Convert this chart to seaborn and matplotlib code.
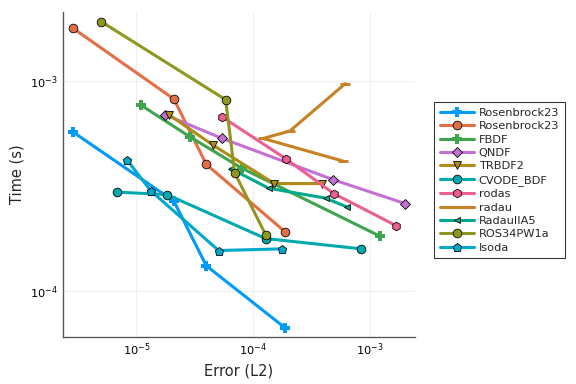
import numpy as np
import pandas as pd
import seaborn as sns
from matplotlib import pyplot as plt
from matplotlib.ticker import LogLocator, NullLocator

# values (error, time)
names = ["Rosenbrock23", "Rosenbrock23", "FBDF", "QNDF", "TRBDF2", "CVODE_BDF",
         "rodas", "radau", "RadauIIA5", "ROS34PW1a", "lsoda"]

err_ros23a = [2.84e-6, 2.09e-5, 3.96e-5, 1.86e-4]
time_ros23a = [5.74e-4, 2.68e-4, 1.32e-4, 6.70e-5]
err_ros23b = [2.84e-6, 2.09e-5, 3.96e-5, 1.86e-4]
time_ros23b = [1.79e-3, 8.21e-4, 4.01e-4, 1.92e-4]
err_fbdf = [1.10e-5, 2.86e-5, 7.94e-5, 1.20e-3]
time_fbdf = [7.66e-4, 5.43e-4, 3.85e-4, 1.83e-4]
err_qndf = [1.75e-5, 5.41e-5, 4.83e-4, 1.99e-3]
time_qndf = [6.92e-4, 5.33e-4, 3.39e-4, 2.61e-4]
err_trbdf2 = [1.89e-5, 4.55e-5, 1.51e-4, 3.89e-4]
time_trbdf2 = [6.92e-4, 4.94e-4, 3.25e-4, 3.25e-4]
err_cvode = [6.83e-6, 1.83e-5, 1.27e-4, 8.32e-4]
time_cvode = [2.96e-4, 2.88e-4, 1.78e-4, 1.59e-4]
err_rodas = [5.36e-5, 1.89e-4, 4.89e-4, 1.66e-3]
time_rodas = [6.77e-4, 4.27e-4, 2.91e-4, 2.05e-4]
err_radau = [6.11e-4, 2.05e-4, 1.21e-4, 5.83e-4]
time_radau = [9.72e-4, 5.78e-4, 5.33e-4, 4.16e-4]
err_radau5 = [6.40e-5, 1.35e-4, 4.15e-4, 6.27e-4]
time_radau5 = [3.83e-4, 3.09e-4, 2.77e-4, 2.52e-4]
err_ros34 = [4.98e-6, 5.79e-5, 6.92e-5, 1.27e-4]
time_ros34 = [1.92e-3, 8.15e-4, 3.66e-4, 1.86e-4]
err_lsoda = [8.31e-6, 1.32e-5, 5.05e-5, 1.77e-4]
time_lsoda = [4.21e-4, 3.01e-4, 1.56e-4, 1.59e-4]

errs = [err_ros23a, err_ros23b, err_fbdf, err_qndf, err_trbdf2, err_cvode,
        err_rodas, err_radau, err_radau5, err_ros34, err_lsoda]
times = [time_ros23a, time_ros23b, time_fbdf, time_qndf, time_trbdf2, time_cvode,
         time_rodas, time_radau, time_radau5, time_ros34, time_lsoda]

colors = ["#009AFA", "#E36F47", "#3EA44E", "#C371D2", "#AC8D18", "#00A9AD",
          "#ED5E93", "#C68225", "#00A98D", "#8E971E", "#00A8CB"]
markers = ["P", "o", "P", "D", "v", "o", "h", "_", "<", "o", "p"]
msizes = [7, 6.5, 7, 5, 6.5, 6.5, 6.5, 7, 4.5, 6.5, 6.5]

sns.set_style("white")
plt.rcParams['font.family'] = ['DejaVu Sans']

fig, ax = plt.subplots(figsize=(6, 4), dpi=96)
fig.subplots_adjust(left=0.109, right=0.72, top=0.969, bottom=0.122)

for i in range(len(names)):
    df = pd.DataFrame({"err": errs[i], "time": times[i]})
    m = markers[i]
    kw = dict(markeredgecolor="black", markeredgewidth=0.6)
    if m == "P":
        kw = dict(markeredgecolor=colors[i], markeredgewidth=0)
    if m == "_":
        kw = dict(markeredgecolor=colors[i], markeredgewidth=2.2)
    sns.lineplot(data=df, x="err", y="time", sort=False, estimator=None,
                 color=colors[i], marker=m, markersize=msizes[i], linewidth=2.3,
                 label=names[i], ax=ax, **kw)

ax.set_xscale("log")
ax.set_yscale("log")
ax.set_xlim(10 ** -5.63, 10 ** -2.62)
ax.set_ylim(10 ** -4.219, 10 ** -2.671)

ax.xaxis.set_major_locator(LogLocator(base=10, numticks=10))
ax.yaxis.set_major_locator(LogLocator(base=10, numticks=10))
ax.xaxis.set_minor_locator(NullLocator())
ax.yaxis.set_minor_locator(NullLocator())

ax.grid(True, color="black", alpha=0.08, linewidth=0.6)
for s in ["top", "right"]:
    ax.spines[s].set_visible(False)
for s in ["left", "bottom"]:
    ax.spines[s].set_color("#555555")
    ax.spines[s].set_linewidth(1.0)
ax.tick_params(direction="in", length=3, width=0.8, colors="#555555",
               labelcolor="black", labelsize=8.5)

ax.set_xlabel("Error (L2)", fontsize=11)
ax.set_ylabel("Time (s)", fontsize=11)

leg = ax.legend(loc="upper left", bbox_to_anchor=(1.04, 0.74), fontsize=8.5,
                frameon=True, fancybox=False, edgecolor="black",
                borderpad=0.5, labelspacing=0.3, handlelength=3.0,
                handletextpad=0.4)
leg.get_frame().set_linewidth(0.8)

plt.savefig("out.png", dpi=96)
